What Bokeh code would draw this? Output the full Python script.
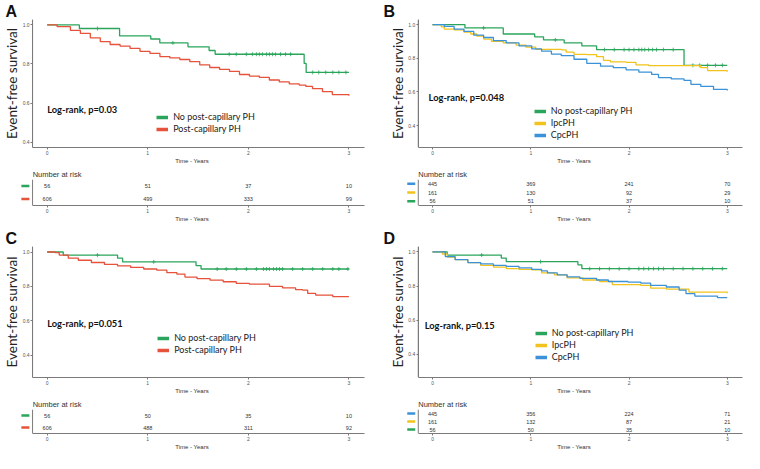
import numpy as np
from bokeh.plotting import figure
from bokeh.models import (Range1d, Legend, LegendItem, Label, FixedTicker,
                          PrintfTickFormatter, LinearAxis, Span)
from bokeh.layouts import column, row
from bokeh.embed import file_html
from bokeh.resources import INLINE
from bokeh.core.properties import value

GREEN = "#2aa55b"
RED = "#e6523a"
YELLOW = "#f1c31c"
BLUE = "#3b92d8"
AXIS = "#7a7a7a"

# ---------------- data ----------------
x_ticks = [0, 1, 2, 3]
y_ticks = [0.4, 0.6, 0.8, 1.0]

# Panel A
a_no_t = [0, 0.32, 0.72, 1.03, 1.12, 1.40, 1.61, 1.67, 2.555, 2.575, 3.0]
a_no_s = [1.0, 0.982, 0.944, 0.928, 0.908, 0.888, 0.869, 0.850, 0.803, 0.757, 0.757]
a_no_cens = [0.50, 1.25, 1.81, 1.88, 1.98, 2.04, 2.08, 2.11, 2.14, 2.18, 2.21, 2.24,
             2.27, 2.32, 2.37, 2.42, 2.64, 2.70, 2.77, 2.84, 2.90, 2.97]
a_post_t = [0, 0.099, 0.231, 0.330, 0.429, 0.528, 0.626, 0.725, 0.824, 0.923, 1.022,
            1.121, 1.220, 1.319, 1.418, 1.517, 1.616, 1.714, 1.813, 1.912, 2.011,
            2.110, 2.209, 2.308, 2.407, 2.506, 2.572, 2.638, 2.737, 2.835, 3.0]
a_post_s = [1.0, 0.991, 0.972, 0.957, 0.934, 0.915, 0.900, 0.892, 0.880, 0.865, 0.854,
            0.838, 0.831, 0.823, 0.812, 0.795, 0.782, 0.772, 0.762, 0.746, 0.738,
            0.731, 0.718, 0.708, 0.698, 0.692, 0.685, 0.674, 0.658, 0.643, 0.637]
a_risk_no = [56, 51, 37, 10]
a_risk_post = [606, 499, 333, 99]

# Panel B
b_no_t = [0, 0.33, 0.72, 1.04, 1.13, 1.34, 1.52, 1.67, 2.56, 3.0]
b_no_s = [1.0, 0.980, 0.944, 0.927, 0.909, 0.891, 0.873, 0.851, 0.758, 0.758]
b_no_cens = [0.52, 1.25, 1.75, 1.85, 1.95, 2.00, 2.05, 2.10, 2.13, 2.16, 2.20, 2.24,
             2.28, 2.35, 2.45, 2.65, 2.72, 2.80, 2.88, 2.95]
b_ipc_t = [0, 0.09, 0.12, 0.22, 0.32, 0.39, 0.45, 0.52, 0.60, 0.72, 0.85, 0.95, 1.05,
           1.31, 1.36, 1.44, 1.57, 1.67, 1.74, 1.81, 1.97, 2.07, 2.20, 2.73, 2.80, 3.0]
b_ipc_s = [1.0, 0.986, 0.973, 0.968, 0.955, 0.944, 0.932, 0.914, 0.901, 0.891, 0.878,
           0.866, 0.853, 0.850, 0.836, 0.823, 0.821, 0.810, 0.787, 0.778, 0.776, 0.761,
           0.756, 0.744, 0.726, 0.720]
b_cpc_t = [0, 0.12, 0.22, 0.32, 0.42, 0.52, 0.62, 0.75, 0.88, 1.01, 1.11, 1.21, 1.31,
           1.44, 1.57, 1.71, 1.84, 1.97, 2.10, 2.23, 2.30, 2.43, 2.56, 2.63, 2.73, 2.86, 3.0]
b_cpc_s = [1.0, 0.989, 0.973, 0.959, 0.937, 0.923, 0.905, 0.891, 0.873, 0.855, 0.842,
           0.825, 0.816, 0.794, 0.770, 0.753, 0.744, 0.731, 0.717, 0.704, 0.685, 0.677,
           0.668, 0.645, 0.633, 0.615, 0.609]
b_risk_cpc = [445, 369, 241, 70]
b_risk_ipc = [161, 130, 92, 29]
b_risk_no = [56, 51, 37, 10]

# Panel C
c_no_t = [0, 0.16, 0.70, 0.75, 1.48, 1.53, 3.0]
c_no_s = [1.0, 0.982, 0.964, 0.943, 0.921, 0.901, 0.901]
c_no_cens = [0.50, 1.06, 1.69, 1.78, 1.88, 1.98, 2.08, 2.15, 2.18, 2.21, 2.25, 2.28,
             2.31, 2.34, 2.44, 2.54, 2.64, 2.74, 2.84, 2.90, 2.99]
c_post_t = [0, 0.08, 0.12, 0.21, 0.31, 0.44, 0.57, 0.70, 0.83, 0.96, 1.09, 1.19, 1.29,
            1.37, 1.49, 1.62, 1.75, 1.88, 2.01, 2.21, 2.34, 2.47, 2.54, 2.59, 2.67, 2.84, 3.0]
c_post_s = [1.0, 0.996, 0.982, 0.964, 0.952, 0.939, 0.928, 0.919, 0.910, 0.901, 0.894,
            0.880, 0.871, 0.854, 0.845, 0.836, 0.827, 0.818, 0.813, 0.800, 0.791, 0.781,
            0.778, 0.759, 0.749, 0.741, 0.741]
c_risk_no = [56, 50, 35, 10]
c_risk_post = [606, 488, 311, 92]

# Panel D
d_no_t = [0, 0.15, 0.70, 0.75, 1.48, 1.52, 3.0]
d_no_s = [1.0, 0.982, 0.964, 0.943, 0.925, 0.902, 0.902]
d_no_cens = [0.50, 1.10, 1.60, 1.70, 1.80, 1.90, 2.00, 2.10, 2.15, 2.20, 2.25, 2.30,
             2.35, 2.45, 2.55, 2.65, 2.75, 2.85, 2.95]
d_ipc_t = [0, 0.10, 0.15, 0.23, 0.36, 0.49, 0.62, 0.75, 0.88, 1.01, 1.11, 1.24, 1.37,
           1.53, 1.70, 1.83, 2.12, 2.22, 2.38, 2.61, 3.0]
d_ipc_s = [1.0, 0.988, 0.970, 0.955, 0.938, 0.922, 0.911, 0.902, 0.898, 0.895, 0.877,
           0.866, 0.848, 0.836, 0.827, 0.809, 0.804, 0.788, 0.783, 0.765, 0.759]
d_cpc_t = [0, 0.13, 0.23, 0.36, 0.49, 0.62, 0.75, 0.88, 1.01, 1.11, 1.17, 1.27, 1.37,
           1.50, 1.67, 1.79, 1.99, 2.12, 2.22, 2.38, 2.51, 2.58, 2.67, 2.90, 3.0]
d_cpc_s = [1.0, 0.973, 0.955, 0.938, 0.930, 0.922, 0.916, 0.907, 0.898, 0.889, 0.877,
           0.866, 0.854, 0.845, 0.836, 0.827, 0.824, 0.818, 0.804, 0.795, 0.777, 0.756,
           0.742, 0.733, 0.733]
d_risk_cpc = [445, 356, 224, 71]
d_risk_ipc = [161, 132, 87, 21]
d_risk_no = [56, 50, 35, 10]

X_RANGE = (-0.145, 3.155)   # visible data span; the y axis sits at its left edge
KEY_W = 0.13                # extra room (years) left of the y axis for the risk-table keys
X_FULL = (X_RANGE[0] - KEY_W, X_RANGE[1])
NAN1 = np.array([np.nan])   # legend-key renderers draw nothing in the plot


def step_value(t, s, c):
    idx = np.searchsorted(np.asarray(t), np.asarray(c), side="right") - 1
    return list(np.asarray(s)[idx])


def key_px(width, bl, br):
    return KEY_W * (width - bl - br) / (X_FULL[1] - X_FULL[0])


def style_axes(p):
    for ax in (p.xaxis[0], p.yaxis[0]):
        ax.axis_line_color = AXIS
        ax.major_tick_line_color = AXIS
        ax.major_tick_out = 2
        ax.major_tick_in = 0
        ax.minor_tick_line_color = None
        ax.major_label_text_font = "Liberation Sans"
        ax.major_label_text_font_size = "5px"
        ax.major_label_text_color = "#555555"
        ax.major_label_text_line_height = 1.0
        ax.major_label_standoff = 1
    p.xaxis.ticker = FixedTicker(ticks=x_ticks)
    p.xaxis.bounds = X_RANGE
    p.yaxis.fixed_location = X_RANGE[0]
    p.xaxis.axis_label = "Time - Years"
    p.xaxis.axis_label_text_font = "Liberation Sans"
    p.xaxis.axis_label_text_font_size = "6px"
    p.xaxis.axis_label_text_font_style = "normal"
    p.xaxis.axis_label_text_color = "#333333"
    p.xaxis.axis_label_text_line_height = 1.0
    p.xaxis.axis_label_standoff = 0
    p.xgrid.visible = False
    p.ygrid.visible = False
    p.outline_line_color = None
    # vertical axis line at the left edge of the data span
    p.add_layout(Span(location=X_RANGE[0], dimension="height",
                      line_color=AXIS, line_width=1))


def km_figure(letter, width, height, bl, br, bt, bb, y_lo, y_hi,
              curves, legend_pos, logrank, logrank_xy):
    p = figure(width=width, height=height, x_range=Range1d(*X_FULL),
               y_range=Range1d(y_lo, y_hi), output_backend="svg", toolbar_location=None,
               min_border_left=bl, min_border_right=br, min_border_top=bt,
               min_border_bottom=bb, title=letter)
    kp = key_px(width, bl, br)
    p.title.text_font = "Liberation Sans"
    p.title.text_font_size = "16px"
    p.title.text_font_style = "bold"
    p.title.text_color = "#111111"
    p.title.standoff = 0
    p.title.offset = -(bl - 3)
    style_axes(p)
    p.yaxis.ticker = FixedTicker(ticks=y_ticks)
    p.yaxis.formatter = PrintfTickFormatter(format="%.1f")
    # axis carrying only the y title, in the left margin
    p.add_layout(LinearAxis(ticker=FixedTicker(ticks=[]), axis_label="Event-free survival",
                            axis_line_color=None, major_tick_line_color=None,
                            minor_tick_line_color=None, axis_label_text_font="Lato",
                            axis_label_text_font_size="13.5px",
                            axis_label_text_font_style="normal",
                            axis_label_text_color="#222222", axis_label_standoff=0),
                 "left")
    for name, color, t, s, cens in curves:
        p.step(t, s, mode="after", line_color=color, line_width=1.3)
        if cens:
            p.scatter(cens, step_value(t, s, cens), marker="cross", size=4,
                      line_color=color, line_width=0.8)
    items = []
    for name, color, t, s, cens in curves:
        key = p.line(NAN1, NAN1, line_color=color, line_width=3.5)
        items.append(LegendItem(label=name, renderers=[key]))
    leg = Legend(items=items, location=(legend_pos[0] + kp, legend_pos[1]),
                 glyph_width=12, glyph_height=10,
                 label_height=10, label_standoff=5, spacing=1, padding=0, margin=0,
                 border_line_color=None, background_fill_alpha=0,
                 label_text_font="Lato", label_text_font_size="9px",
                 label_text_color="#222222")
    p.add_layout(leg)
    p.add_layout(Label(x=logrank_xy[0], y=logrank_xy[1], text=logrank,
                       text_font="Lato", text_font_size="9.3px", text_font_style="bold",
                       text_baseline="middle", text_color="#111111"))
    return p


def risk_figure(width, height, bl, br, bt, bb, groups):
    n = len(groups)
    kp = key_px(width, bl, br)
    p = figure(width=width, height=height, x_range=Range1d(*X_FULL),
               y_range=Range1d(0, n), output_backend="svg",
               toolbar_location=None, title="Number at risk",
               min_border_left=bl, min_border_right=br, min_border_top=bt,
               min_border_bottom=bb)
    p.title.text_font = "Liberation Sans"
    p.title.text_font_size = "7.5px"
    p.title.text_font_style = "normal"
    p.title.text_color = "#333333"
    p.title.standoff = 2
    p.title.offset = kp
    style_axes(p)
    p.yaxis.visible = False
    rows = [n - i - 0.5 for i in range(n)]
    for (name, color, counts), yrow in zip(groups, rows):
        p.text(x=x_ticks, y=[yrow] * len(counts), text=[str(c) for c in counts],
               text_align="center", text_baseline="middle", text_font_size="5.5px",
               text_font=value("Liberation Sans"), text_color="#333333")
    # coloured keys just left of the table's axis, one per row
    p.scatter(x=[X_RANGE[0] - 0.55 * KEY_W] * n, y=rows, marker="dash", size=8,
              line_color=[g[1] for g in groups], line_width=2.5)
    return p


NO = "No post-capillary PH"
POST = "Post-capillary PH"
IPC = "IpcPH"
CPC = "CpcPH"

# geometry
WL, BLL, BRL = 380, 17, 16
WR, BLR, BRR = 364, 25, 2
KM_H1, KM_H2, KM_BB = 166, 172, 10
RISK_H1, RISK_H2, RISK_BT, RISK_BB = 58, 56, 12, 10

kmA = km_figure("A", WL, KM_H1, BLL, BRL, 5, KM_BB, 0.372, 1.028,
                [(NO, GREEN, a_no_t, a_no_s, a_no_cens),
                 (POST, RED, a_post_t, a_post_s, None)],
                (124, 13), "Log-rank, p=0.03", (0.0, 0.567))
riskA = risk_figure(WL, RISK_H1, BLL, BRL, RISK_BT, RISK_BB,
                    [(NO, GREEN, a_risk_no), (POST, RED, a_risk_post)])

kmB = km_figure("B", WR, KM_H1, BLR, BRR, 5, KM_BB, 0.27, 1.03,
                [(NO, GREEN, b_no_t, b_no_s, b_no_cens),
                 (IPC, YELLOW, b_ipc_t, b_ipc_s, None),
                 (CPC, BLUE, b_cpc_t, b_cpc_s, None)],
                (116, 7), "Log-rank, p=0.048", (-0.04, 0.566))
riskB = risk_figure(WR, RISK_H1, BLR, BRR, RISK_BT, RISK_BB,
                    [(CPC, BLUE, b_risk_cpc), (IPC, YELLOW, b_risk_ipc), (NO, GREEN, b_risk_no)])

kmC = km_figure("C", WL, KM_H2, BLL, BRL, 22, KM_BB, 0.27, 1.032,
                [(NO, GREEN, c_no_t, c_no_s, c_no_cens),
                 (POST, RED, c_post_t, c_post_s, None)],
                (125, 22), "Log-rank, p=0.051", (0.0, 0.584))
riskC = risk_figure(WL, RISK_H2, BLL, BRL, RISK_BT, RISK_BB,
                    [(NO, GREEN, c_risk_no), (POST, RED, c_risk_post)])

kmD = km_figure("D", WR, KM_H2, BLR, BRR, 22, KM_BB, 0.265, 1.032,
                [(NO, GREEN, d_no_t, d_no_s, d_no_cens),
                 (IPC, YELLOW, d_ipc_t, d_ipc_s, None),
                 (CPC, BLUE, d_cpc_t, d_cpc_s, None)],
                (117, 15), "Log-rank, p=0.15", (-0.08, 0.571))
riskD = risk_figure(WR, RISK_H2, BLR, BRR, RISK_BT, RISK_BB,
                    [(CPC, BLUE, d_risk_cpc), (IPC, YELLOW, d_risk_ipc), (NO, GREEN, d_risk_no)])

layout = column(row(column(kmA, riskA), column(kmB, riskB)),
                row(column(kmC, riskC), column(kmD, riskD)))

open("out.html", "w").write(file_html(layout, INLINE))
